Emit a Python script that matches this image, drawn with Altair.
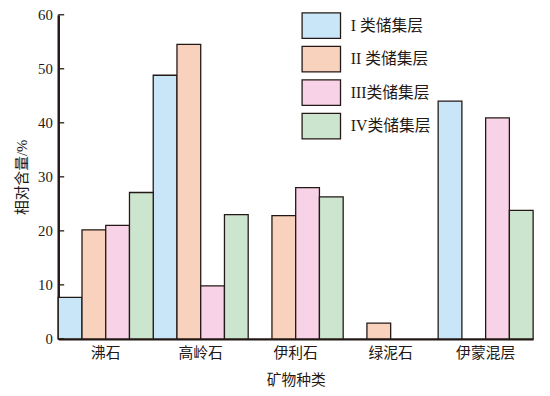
import altair as alt
import pandas as pd

minerals = ["沸石", "高岭石", "伊利石", "绿泥石", "伊蒙混层"]
series = ["I 类储集层", "II 类储集层", "III类储集层", "IV类储集层"]
colors = ["#c8e6f8", "#f8d2bc", "#f8d2e6", "#cce5cf"]
v1 = [7.7, 48.8, 0, 0, 44.0]
v2 = [20.2, 54.5, 22.8, 2.9, 0]
v3 = [21.0, 9.8, 28.0, 0, 40.9]
v4 = [27.1, 23.0, 26.3, 0, 23.8]
yticks = [0, 10, 20, 30, 40, 50, 60]

rows = []
for s, vals in zip(series, [v1, v2, v3, v4]):
    for m, v in zip(minerals, vals):
        rows.append({"mineral": m, "series": s, "value": v})
df = pd.DataFrame(rows)
ticks_df = pd.DataFrame({"t": yticks})

SERIF = "Liberation Serif, Noto Sans CJK SC"
INK = "#231815"

yscale = alt.Scale(domain=[0, 60], nice=False)

bars = alt.Chart(df).transform_filter("datum.value > 0").mark_bar(
    stroke=INK, strokeWidth=1.3
).encode(
    x=alt.X("mineral:N", sort=minerals, scale=alt.Scale(paddingInner=0, paddingOuter=0),
            axis=alt.Axis(title="矿物种类", labelAngle=0, ticks=False, domainWidth=2.5,
                          domainColor=INK, labelFont=SERIF, labelFontSize=15,
                          labelColor=INK, labelPadding=7, titleFont=SERIF,
                          titleFontSize=15, titleFontWeight="normal", titleColor=INK,
                          titlePadding=12)),
    xOffset=alt.XOffset("series:N", sort=series, scale=alt.Scale(paddingInner=0, paddingOuter=0)),
    y=alt.Y("value:Q", scale=yscale,
            axis=alt.Axis(title="相对含量/%", values=yticks, ticks=False, grid=False,
                          domainWidth=2.5, domainColor=INK, labelFont=SERIF,
                          labelFontSize=15, labelColor=INK, labelPadding=6,
                          titleFont=SERIF, titleFontSize=15, titleFontWeight="normal",
                          titleColor=INK, titlePadding=8)),
    color=alt.Color("series:N", sort=series,
                    scale=alt.Scale(domain=series, range=colors),
                    legend=alt.Legend(title=None, orient="none", legendX=253, legendY=-3,
                                      symbolType="M-1.5,-1H1.5V1H-1.5Z", symbolSize=676,
                                      symbolStrokeColor=INK, symbolStrokeWidth=1.3,
                                      symbolFillColor=None, rowPadding=2,
                                      labelFont=SERIF, labelFontSize=16, labelColor=INK,
                                      labelOffset=16, padding=0)),
)

tk = alt.Chart(ticks_df).mark_rule(color=INK, strokeWidth=1.3).encode(
    y=alt.Y("t:Q", scale=yscale),
    x=alt.value(0), x2=alt.value(6),
)

chart = alt.layer(bars, tk).properties(
    width=482, height=329,
    autosize=alt.AutoSizeParams(type="none"),
    padding={"left": 51, "top": 4, "right": 9, "bottom": 48},
).configure_view(stroke=None).configure_legend(symbolOpacity=1)

chart.save("out.html", embed_options={"renderer": "svg", "actions": False})
